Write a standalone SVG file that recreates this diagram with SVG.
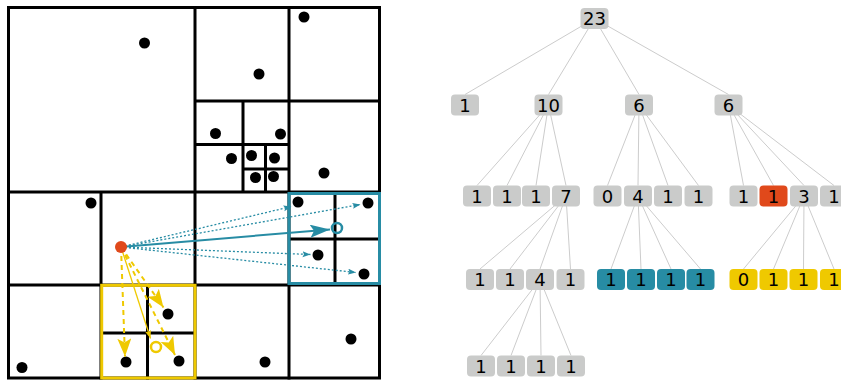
<svg xmlns="http://www.w3.org/2000/svg" width="841" height="381" viewBox="0 0 841 381">
<style>
.grid{stroke:#000;stroke-width:3;fill:none;stroke-linecap:square}
.pt{fill:#000}
.edge{stroke:#cccccc;stroke-width:1;fill:none}
.n rect{fill:#cacbca}
.n text{font-family:"DejaVu Sans",sans-serif;font-size:18px;fill:#000;text-anchor:middle}
.n.red rect{fill:#e0491b}
.n.teal rect{fill:#278ca4}
.n.yel rect{fill:#efc900}
.td{stroke:#278ca4;stroke-width:1.3;stroke-dasharray:2 2;fill:none}
.ts{stroke:#278ca4;stroke-width:2;fill:none}
.yd{stroke:#efc900;stroke-width:2;stroke-dasharray:5 4;fill:none}
.ys{stroke:#efc900;stroke-width:1.3;fill:none}
</style>
<defs>
<marker id="tSmall" markerUnits="userSpaceOnUse" markerWidth="9" markerHeight="7" refX="8" refY="3" orient="auto"><path d="M0,0 L8,3 L0,6 L1.5,3 z" fill="#278ca4"/></marker>
<marker id="tBig" markerUnits="userSpaceOnUse" markerWidth="21" markerHeight="14" refX="20" refY="6.5" orient="auto"><path d="M0,0 L20,6.5 L0,13 L4,6.5 z" fill="#278ca4"/></marker>
<marker id="yBig" markerUnits="userSpaceOnUse" markerWidth="19" markerHeight="15" refX="18" refY="7" orient="auto"><path d="M0,0 L18,7 L0,14 L4,7 z" fill="#efc900"/></marker>
<marker id="ySmall" markerUnits="userSpaceOnUse" markerWidth="9" markerHeight="7" refX="8" refY="3" orient="auto"><path d="M0,0 L8,3 L0,6 L1.5,3 z" fill="#efc900"/></marker>
</defs>
<rect width="841" height="381" fill="#fff"/>

<g id="plane">
<g id="grid">
<rect class="grid" x="8.5" y="7.5" width="371" height="370.5"/>
<path class="grid" d="M195,7.5V378 M8.5,192H379.5 M289,7.5V192 M195,101H379.5 M243,101V192 M195,144.5H289 M265.5,144.5V192 M243,169H289 M101,192V378 M8.5,285H379.5 M289,192V378 M147.5,285V378 M101,333H195 M335,192V285 M289,239H379.5"/>
</g>
<g id="points">
<circle class="pt" cx="144.5" cy="43" r="5.5"/>
<circle class="pt" cx="304" cy="17" r="5.5"/>
<circle class="pt" cx="259" cy="74" r="5.5"/>
<circle class="pt" cx="215.5" cy="133.5" r="5.5"/>
<circle class="pt" cx="280.5" cy="134" r="5.5"/>
<circle class="pt" cx="231.5" cy="158.5" r="5.5"/>
<circle class="pt" cx="251.5" cy="155.5" r="5.5"/>
<circle class="pt" cx="274.5" cy="158" r="5.5"/>
<circle class="pt" cx="255.5" cy="177.5" r="5.5"/>
<circle class="pt" cx="273.5" cy="176.5" r="5.5"/>
<circle class="pt" cx="324" cy="173" r="5.5"/>
<circle class="pt" cx="91" cy="203" r="5.5"/>
<circle class="pt" cx="22" cy="367.5" r="5.5"/>
<circle class="pt" cx="265" cy="362" r="5.5"/>
<circle class="pt" cx="351" cy="339" r="5.5"/>
<circle class="pt" cx="298" cy="202" r="5.5"/>
<circle class="pt" cx="368" cy="203" r="5.5"/>
<circle class="pt" cx="318" cy="255" r="5.5"/>
<circle class="pt" cx="364" cy="274" r="5.5"/>
<circle class="pt" cx="168" cy="314" r="5.5"/>
<circle class="pt" cx="126" cy="362" r="5.5"/>
<circle class="pt" cx="179" cy="361" r="5.5"/>
</g>
<rect id="tealCell" x="289" y="193.5" width="90.5" height="90" fill="none" stroke="#278ca4" stroke-width="3"/>
<rect id="yellowCell" x="101.7" y="285.3" width="93.3" height="92.7" fill="none" stroke="#efc900" stroke-width="3"/>
<g id="arrows">
<path class="td" d="M121,247 L291.5,206.5" marker-end="url(#tSmall)"/>
<path class="td" d="M121,247 L360.5,204.5" marker-end="url(#tSmall)"/>
<path class="td" d="M121,247 L310.5,254.5" marker-end="url(#tSmall)"/>
<path class="td" d="M121,247 L356,272.5" marker-end="url(#tSmall)"/>
<path class="ts" d="M121,247 L330,229.5" marker-end="url(#tBig)"/>
<path class="yd" d="M121,247 L125,356.5" marker-end="url(#yBig)"/>
<path class="yd" d="M121,247 L163.5,307.5" marker-end="url(#yBig)"/>
<path class="yd" d="M121,247 L175,355" marker-end="url(#yBig)"/>
<path class="ys" d="M121,247 L150.5,338.5" marker-end="url(#ySmall)"/>
</g>
<circle cx="337" cy="228" r="5" fill="none" stroke="#278ca4" stroke-width="2.5"/>
<circle cx="156" cy="347" r="5" fill="none" stroke="#efc900" stroke-width="2.5"/>
<circle id="query" cx="121" cy="247" r="6" fill="#e0491b"/>
</g>

<g id="connectors">
<path class="edge" d="M594.5,18.5L465,94.5 M594.5,18.5L548.5,94.5 M594.5,18.5L639,94.5 M594.5,18.5L728.5,94.5"/>
<path class="edge" d="M548.5,105L477,185.5 M548.5,105L507,185.5 M548.5,105L536,185.5 M548.5,105L566,185.5"/>
<path class="edge" d="M639,105L607.5,185.5 M639,105L638,185.5 M639,105L668,185.5 M639,105L698.5,185.5"/>
<path class="edge" d="M728.5,105L743.5,185.5 M728.5,105L773.5,185.5 M728.5,105L804,185.5 M728.5,105L834,185.5"/>
<path class="edge" d="M566,196L480,269 M566,196L510,269 M566,196L540,269 M566,196L570.5,269"/>
<path class="edge" d="M638,196L611,269 M638,196L641,269 M638,196L671,269 M638,196L700.5,269"/>
<path class="edge" d="M804,196L743.5,269 M804,196L773.5,269 M804,196L803.5,269 M804,196L834,269"/>
<path class="edge" d="M540,279.5L481,355.5 M540,279.5L511,355.5 M540,279.5L541,355.5 M540,279.5L571,355.5"/>
</g>

<g id="n0" class="n"><rect x="580.5" y="8" width="28" height="21" rx="4"/><text x="594.5" y="25.2">23</text></g>
<g id="n1" class="n"><rect x="451" y="94.5" width="28" height="21" rx="4"/><text x="465" y="111.7">1</text></g>
<g id="n2" class="n"><rect x="534.5" y="94.5" width="28" height="21" rx="4"/><text x="548.5" y="111.7">10</text></g>
<g id="n3" class="n"><rect x="625" y="94.5" width="28" height="21" rx="4"/><text x="639" y="111.7">6</text></g>
<g id="n4" class="n"><rect x="714.5" y="94.5" width="28" height="21" rx="4"/><text x="728.5" y="111.7">6</text></g>

<g id="n5" class="n"><rect x="463" y="185.5" width="28" height="21" rx="4"/><text x="477" y="202.7">1</text></g>
<g id="n6" class="n"><rect x="493" y="185.5" width="28" height="21" rx="4"/><text x="507" y="202.7">1</text></g>
<g id="n7" class="n"><rect x="522" y="185.5" width="28" height="21" rx="4"/><text x="536" y="202.7">1</text></g>
<g id="n8" class="n"><rect x="552" y="185.5" width="28" height="21" rx="4"/><text x="566" y="202.7">7</text></g>
<g id="n9" class="n"><rect x="593.5" y="185.5" width="28" height="21" rx="4"/><text x="607.5" y="202.7">0</text></g>
<g id="n10" class="n"><rect x="624" y="185.5" width="28" height="21" rx="4"/><text x="638" y="202.7">4</text></g>
<g id="n11" class="n"><rect x="654" y="185.5" width="28" height="21" rx="4"/><text x="668" y="202.7">1</text></g>
<g id="n12" class="n"><rect x="684.5" y="185.5" width="28" height="21" rx="4"/><text x="698.5" y="202.7">1</text></g>
<g id="n13" class="n"><rect x="729.5" y="185.5" width="28" height="21" rx="4"/><text x="743.5" y="202.7">1</text></g>
<g id="n14" class="n red"><rect x="759.5" y="185.5" width="28" height="21" rx="4"/><text x="773.5" y="202.7">1</text></g>
<g id="n15" class="n"><rect x="790" y="185.5" width="28" height="21" rx="4"/><text x="804" y="202.7">3</text></g>
<g id="n16" class="n"><rect x="820" y="185.5" width="28" height="21" rx="4"/><text x="834" y="202.7">1</text></g>

<g id="n17" class="n"><rect x="466" y="269" width="28" height="21" rx="4"/><text x="480" y="286.2">1</text></g>
<g id="n18" class="n"><rect x="496" y="269" width="28" height="21" rx="4"/><text x="510" y="286.2">1</text></g>
<g id="n19" class="n"><rect x="526" y="269" width="28" height="21" rx="4"/><text x="540" y="286.2">4</text></g>
<g id="n20" class="n"><rect x="556.5" y="269" width="28" height="21" rx="4"/><text x="570.5" y="286.2">1</text></g>
<g id="n21" class="n teal"><rect x="597" y="269" width="28" height="21" rx="4"/><text x="611" y="286.2">1</text></g>
<g id="n22" class="n teal"><rect x="627" y="269" width="28" height="21" rx="4"/><text x="641" y="286.2">1</text></g>
<g id="n23" class="n teal"><rect x="657" y="269" width="28" height="21" rx="4"/><text x="671" y="286.2">1</text></g>
<g id="n24" class="n teal"><rect x="686.5" y="269" width="28" height="21" rx="4"/><text x="700.5" y="286.2">1</text></g>
<g id="n25" class="n yel"><rect x="729.5" y="269" width="28" height="21" rx="4"/><text x="743.5" y="286.2">0</text></g>
<g id="n26" class="n yel"><rect x="759.5" y="269" width="28" height="21" rx="4"/><text x="773.5" y="286.2">1</text></g>
<g id="n27" class="n yel"><rect x="789.5" y="269" width="28" height="21" rx="4"/><text x="803.5" y="286.2">1</text></g>
<g id="n28" class="n yel"><rect x="820" y="269" width="28" height="21" rx="4"/><text x="834" y="286.2">1</text></g>

<g id="n29" class="n"><rect x="467" y="355.5" width="28" height="21" rx="4"/><text x="481" y="372.7">1</text></g>
<g id="n30" class="n"><rect x="497" y="355.5" width="28" height="21" rx="4"/><text x="511" y="372.7">1</text></g>
<g id="n31" class="n"><rect x="527" y="355.5" width="28" height="21" rx="4"/><text x="541" y="372.7">1</text></g>
<g id="n32" class="n"><rect x="557" y="355.5" width="28" height="21" rx="4"/><text x="571" y="372.7">1</text></g>
</svg>
